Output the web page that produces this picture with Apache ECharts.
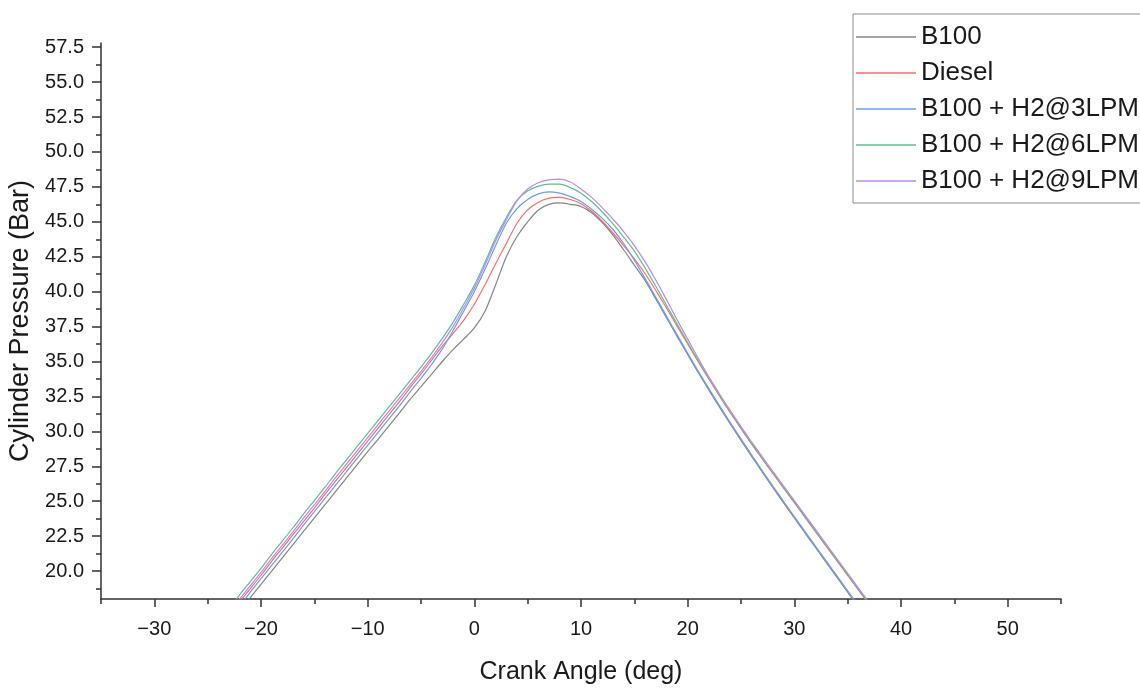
<!DOCTYPE html>
<html>
<head>
<meta charset="utf-8">
<script src="https://cdn.jsdelivr.net/npm/echarts@6/dist/echarts.min.js"></script>
<style>
html,body{margin:0;padding:0;background:#fff;}
#chart{width:1140px;height:689px;}
</style>
</head>
<body>
<div id="chart"></div>
<script>
// Crank angle (deg)
const crankAngle = [-23,-22,-21,-20,-19,-18,-17,-16,-15,-14,-13,-12,-11,-10,-9,-8,-7,-6,-5,-4,-3,-2,-1,0,1,2,3,4,5,6,7,8,9,10,11,12,13,14,15,16,17,18,19,20,21,22,23,24,25,26,27,28,29,30,31,32,33,34,35,36,37,38];

const seriesNames = ['B100','Diesel','B100 + H2@3LPM','B100 + H2@6LPM','B100 + H2@9LPM'];

const b100 = [16.2,17.15,18.1,19.05,20.0,20.95,21.9,22.85,23.8,24.75,25.7,26.65,27.6,28.55,29.45,30.4,31.35,32.3,33.2,34.1,35.0,35.85,36.6,37.4,38.6,40.5,42.5,43.95,45.0,45.85,46.25,46.35,46.25,46.1,45.65,44.95,44.05,43.0,41.9,40.8,39.5,38.15,36.82,35.5,34.2,32.94,31.72,30.53,29.36,28.21,27.08,25.97,24.88,23.8,22.73,21.67,20.61,19.55,18.49,17.43,16.37,15.31];

const diesel = [16.85,17.8,18.75,19.7,20.7,21.65,22.6,23.55,24.5,25.5,26.45,27.4,28.35,29.3,30.25,31.2,32.15,33.15,34.1,35.1,36.1,37.0,37.95,39.1,40.5,42.0,43.45,44.9,45.85,46.4,46.7,46.75,46.6,46.3,45.75,45.05,44.2,43.3,42.35,41.3,40.1,38.85,37.55,36.25,34.97,33.73,32.51,31.33,30.19,29.09,28.02,26.97,25.93,24.89,23.85,22.81,21.77,20.73,19.69,18.65,17.61,16.57];

const h2_3lpm = [16.55,17.5,18.5,19.45,20.4,21.35,22.3,23.3,24.25,25.2,26.15,27.1,28.05,29.0,29.95,30.9,31.85,32.85,33.8,34.8,35.9,37.2,38.6,40.0,41.6,43.3,44.9,45.95,46.6,47.0,47.15,47.05,46.8,46.45,45.9,45.25,44.45,43.45,42.25,40.95,39.62,38.27,36.93,35.6,34.3,33.04,31.82,30.63,29.46,28.31,27.18,26.07,24.98,23.9,22.83,21.77,20.71,19.65,18.59,17.53,16.47,15.41];

const h2_6lpm = [17.3,18.3,19.25,20.2,21.2,22.15,23.1,24.1,25.05,26.0,27.0,27.95,28.9,29.85,30.8,31.75,32.7,33.65,34.6,35.6,36.65,37.8,39.1,40.45,42.1,43.85,45.3,46.55,47.2,47.55,47.7,47.7,47.45,47.05,46.45,45.7,44.85,43.9,42.9,41.7,40.4,39.05,37.7,36.36,35.05,33.78,32.56,31.38,30.24,29.14,28.07,27.02,25.98,24.94,23.9,22.86,21.82,20.78,19.74,18.7,17.66,16.62];

const h2_9lpm = [17.05,18.0,18.95,19.9,20.9,21.85,22.8,23.8,24.75,25.7,26.7,27.65,28.6,29.55,30.5,31.45,32.4,33.35,34.3,35.3,36.35,37.5,38.85,40.25,41.9,43.65,45.15,46.5,47.35,47.8,48.0,48.05,47.85,47.35,46.75,46.0,45.2,44.3,43.3,42.15,40.85,39.45,38.0,36.6,35.22,33.88,32.66,31.48,30.34,29.24,28.17,27.12,26.08,25.04,24.0,22.96,21.92,20.88,19.84,18.8,17.76,16.72];

const xMajorTicks = [-30,-20,-10,0,10,20,30,40,50];
const xMinorTicks = [-35,-25,-15,-5,5,15,25,35,45,55];
const yMajorTicks = [20,22.5,25,27.5,30,32.5,35,37.5,40,42.5,45,47.5,50,52.5,55,57.5];
const yMinorTicks = [18.75,21.25,23.75,26.25,28.75,31.25,33.75,36.25,38.75,41.25,43.75,46.25,48.75,51.25,53.75,56.25];

const colors = ['#858585','#ff6a6a','#6a9cf5','#5fbf8c','#b98ae6'];
const allValues = [b100, diesel, h2_3lpm, h2_6lpm, h2_9lpm];

const FONT = 'Liberation Sans, Arial, sans-serif';
const TXT = '#1a1a1a';
const AX = '#333';

const chart = echarts.init(document.getElementById('chart'), null, {renderer:'canvas'});

const series = allValues.map((vals, i) => ({
  name: seriesNames[i],
  type: 'line',
  xAxisIndex: 0,
  yAxisIndex: 0,
  data: vals.map((v, k) => [crankAngle[k], v]),
  showSymbol: false,
  symbol: 'none',
  smooth: 0.3,
  clip: true,
  lineStyle: {color: colors[i], width: 1.2},
  itemStyle: {color: colors[i]},
  z: 2 + i
}));

chart.setOption({
  animation: false,
  backgroundColor: '#fff',
  grid: {left: 101, right: 79, top: 43, bottom: 90, containLabel: false, outerBoundsMode: 'none'},
  legend: {
    orient: 'vertical',
    left: 853,
    top: 14,
    padding: [10, 60, 9, 3],
    itemGap: 10,
    itemWidth: 60,
    itemHeight: 1.5,
    icon: 'rect',
    borderColor: '#8c8c8c',
    borderWidth: 1,
    backgroundColor: '#fff',
    textStyle: {fontFamily: FONT, fontSize: 26, lineHeight: 24, color: TXT},
    data: seriesNames
  },
  xAxis: [{
    type: 'value', min: -35, max: 55, position: 'bottom',
    name: 'Crank Angle (deg)', nameLocation: 'middle', nameGap: 61,
    nameTextStyle: {fontFamily: FONT, fontSize: 25, color: TXT},
    axisLine: {show: true, onZero: false, lineStyle: {color: AX, width: 1.5}},
    axisTick: {show: true, inside: false, length: 8, customValues: xMajorTicks, lineStyle: {color: AX, width: 1.5}},
    axisLabel: {show: true, customValues: xMajorTicks, margin: 20, fontFamily: FONT, fontSize: 20, color: TXT,
      formatter: v => (v < 0 ? '\u2212' + Math.abs(v) : String(v))},
    splitLine: {show: false}
  }, {
    type: 'value', min: -35, max: 55, position: 'bottom', offset: 0,
    axisLine: {show: false, onZero: false},
    axisTick: {show: true, inside: false, length: 5, customValues: xMinorTicks, lineStyle: {color: AX, width: 1.5}},
    axisLabel: {show: false},
    splitLine: {show: false}
  }],
  yAxis: [{
    type: 'value', min: 18, max: 57.8, position: 'left',
    name: 'Cylinder Pressure (Bar)', nameLocation: 'middle', nameGap: 60,
    nameTextStyle: {fontFamily: FONT, fontSize: 27, color: TXT},
    axisLine: {show: true, onZero: false, lineStyle: {color: AX, width: 1.5}},
    axisTick: {show: true, inside: false, length: 9, customValues: yMajorTicks, lineStyle: {color: AX, width: 1.5}},
    axisLabel: {show: true, customValues: yMajorTicks, margin: 17, fontFamily: FONT, fontSize: 20, color: TXT,
      formatter: v => v.toFixed(1)},
    splitLine: {show: false}
  }, {
    type: 'value', min: 18, max: 57.8, position: 'left', offset: 0,
    axisLine: {show: false, onZero: false},
    axisTick: {show: true, inside: false, length: 5, customValues: yMinorTicks, lineStyle: {color: AX, width: 1.5}},
    axisLabel: {show: false},
    splitLine: {show: false}
  }],
  series: series
});
</script>
</body>
</html>
